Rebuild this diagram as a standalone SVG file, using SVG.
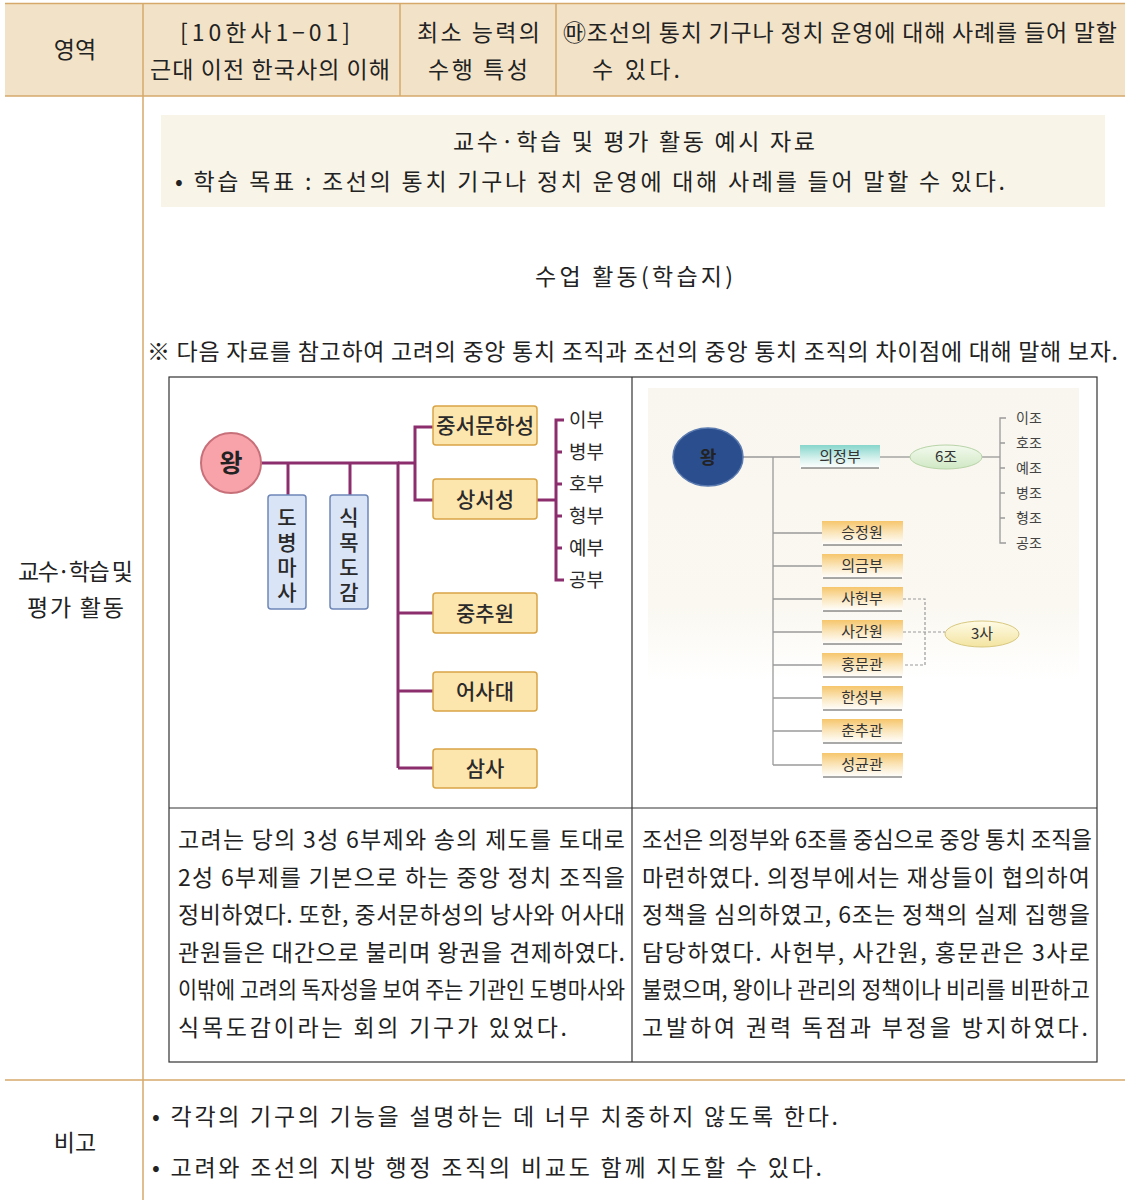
<svg xmlns="http://www.w3.org/2000/svg" width="1125" height="1200" viewBox="0 0 1125 1200">
<style>
  text { font-family: "Noto Sans CJK KR", "Liberation Sans", sans-serif; fill: #222; }
  .t21 { font-size: 23px; }
  .t20 { font-size: 23px; }
  .mid { text-anchor: middle; }
  .grid { stroke: #d6a96a; stroke-width: 1.5; fill: none; }
  .tbl { stroke: #333; stroke-width: 1.2; fill: none; }
  .pl { stroke: #8c2d6e; stroke-width: 3; fill: none; }
  .gl { stroke: #9a9a9a; stroke-width: 1.3; fill: none; }
  .gd { stroke: #9a9a9a; stroke-width: 1.2; fill: none; stroke-dasharray: 3 2; }
  .obox { fill: #fde6ae; stroke: #d9a445; stroke-width: 1.5; }
  .bbox { fill: #d9e4f7; stroke: #6f87b8; stroke-width: 1.5; }
  .gt { font-size: 21px; font-weight: 500; fill: #2a2a2a; text-anchor: middle; }
  .vt { font-size: 21px; font-weight: 500; fill: #2a2a2a; writing-mode: vertical-rl; text-orientation: upright; letter-spacing: 4px; }
  .bt { font-size: 19px; fill: #2a2a2a; }
  .jt { font-size: 15px; fill: #333; text-anchor: middle; }
  .jb { font-size: 14px; fill: #444; }
  .jbox { fill: url(#og); }
  .ul { stroke: #555; stroke-width: 1.2; fill: none; }
</style>
<defs>
  <linearGradient id="og" x1="0" y1="0" x2="0" y2="1">
    <stop offset="0" stop-color="#f6c66c"/>
    <stop offset="0.55" stop-color="#fbe9c4"/>
    <stop offset="1" stop-color="#ffffff"/>
  </linearGradient>
  <linearGradient id="tg" x1="0" y1="0" x2="0" y2="1">
    <stop offset="0" stop-color="#86d6cc"/>
    <stop offset="0.6" stop-color="#d8f2ee"/>
    <stop offset="1" stop-color="#ffffff"/>
  </linearGradient>
  <linearGradient id="gg" x1="0" y1="0" x2="0" y2="1">
    <stop offset="0" stop-color="#f4faee"/>
    <stop offset="1" stop-color="#cfe8c4"/>
  </linearGradient>
  <linearGradient id="yg" x1="0" y1="0" x2="0" y2="1">
    <stop offset="0" stop-color="#fffbe6"/>
    <stop offset="1" stop-color="#f3e4a0"/>
  </linearGradient>
  <linearGradient id="bgg" x1="0" y1="0" x2="0" y2="1">
    <stop offset="0" stop-color="#f8f6ee"/>
    <stop offset="0.75" stop-color="#faf8f1"/>
    <stop offset="1" stop-color="#ffffff"/>
  </linearGradient>
</defs>

<rect x="0" y="0" width="1125" height="1200" fill="#ffffff"/>

<!-- header row -->
<g id="header">
  <rect x="5" y="4" width="1120" height="92" fill="#f2e3c8"/>
  <line class="grid" x1="5" y1="3.5" x2="1125" y2="3.5" stroke-width="2.5"/>
  <line class="grid" x1="5" y1="96" x2="1125" y2="96"/>
  <line class="grid" x1="400" y1="4" x2="400" y2="96"/>
  <line class="grid" x1="556" y1="4" x2="556" y2="96"/>
  <text class="t21 mid" x="75" y="58">영역</text>
  <text class="t21" x="180" y="41" textLength="170" lengthAdjust="spacing">[10한사1−01]</text>
  <text class="t21" x="150" y="78" textLength="240" lengthAdjust="spacing">근대 이전 한국사의 이해</text>
  <text class="t21" x="417" y="41" textLength="123" lengthAdjust="spacing">최소 능력의</text>
  <text class="t21" x="428" y="78" textLength="100" lengthAdjust="spacing">수행 특성</text>
  <text class="t21" x="563" y="41" textLength="554" lengthAdjust="spacing">㉲조선의 통치 기구나 정치 운영에 대해 사례를 들어 말할</text>
  <text class="t21" x="592" y="78" textLength="88" lengthAdjust="spacing">수 있다.</text>
</g>

<!-- table grid -->
<g id="grid">
  <line class="grid" x1="143" y1="4" x2="143" y2="1200"/>
  <line class="grid" x1="5" y1="1080" x2="1125" y2="1080"/>
</g>

<g id="row-label">
  <text class="t21" x="18" y="580" textLength="115" lengthAdjust="spacing">교수·학습 및</text>
  <text class="t21" x="27" y="616" textLength="97" lengthAdjust="spacing">평가 활동</text>
</g>

<g id="goal-box">
  <rect x="161" y="115" width="944" height="92" fill="#f8f4e7"/>
  <text class="t21" x="453" y="150" textLength="362" lengthAdjust="spacing">교수·학습 및 평가 활동 예시 자료</text>
  <text class="t21" x="175" y="190" textLength="830" lengthAdjust="spacing">• 학습 목표 : 조선의 통치 기구나 정치 운영에 대해 사례를 들어 말할 수 있다.</text>
</g>

<g id="activity-title">
  <text class="t21" x="535" y="285" textLength="198" lengthAdjust="spacing">수업 활동(학습지)</text>
  <text class="t21" x="147" y="360" textLength="971" lengthAdjust="spacing">※ 다음 자료를 참고하여 고려의 중앙 통치 조직과 조선의 중앙 통치 조직의 차이점에 대해 말해 보자.</text>
</g>

<!-- inner table -->
<g id="inner-table">
  <rect class="tbl" x="169" y="377" width="928" height="685"/>
  <line class="tbl" x1="632" y1="377" x2="632" y2="1062"/>
  <line class="tbl" x1="169" y1="808" x2="1097" y2="808"/>
</g>

<!-- Joseon background -->
<rect x="648" y="388" width="431" height="292" fill="url(#bgg)"/>

<!-- connectors -->
<g id="connectors">
  <!-- Goryeo -->
  <path class="pl" d="M261 463 H398 V768"/>
  <path class="pl" d="M288 463 V495"/>
  <path class="pl" d="M350 463 V495"/>
  <path class="pl" d="M398 463 H415"/>
  <path class="pl" d="M433 427 H415 V500 H433"/>
  <path class="pl" d="M398 613 H433"/>
  <path class="pl" d="M398 691 H433"/>
  <path class="pl" d="M398 768 H433"/>
  <path class="pl" d="M537 500 H556"/>
  <path class="pl" d="M564 420 H556 V580 H564"/>
  <path class="pl" d="M556 452 H562 M556 484 H562 M556 516 H562 M556 548 H562"/>
  <!-- Joseon -->
  <path class="gl" d="M743 457 H800"/>
  <path class="gl" d="M773 457 V765"/>
  <path class="gl" d="M773 533 H822 M773 566 H822 M773 599 H822 M773 632 H822 M773 665 H822 M773 698 H822 M773 731 H822 M773 765 H822"/>
  <path class="gl" d="M880 457 H910"/>
  <path class="gl" d="M982 457 H1000"/>
  <path class="gl" d="M1006 418 H1000 V543 H1006"/>
  <path class="gl" d="M1000 443 H1005 M1000 468 H1005 M1000 493 H1005 M1000 518 H1005"/>
  <path class="gd" d="M903 599 H925 V665 H903"/>
  <path class="gd" d="M903 632 H945"/>
</g>

<!-- Goryeo nodes -->
<g id="g-king">
  <circle cx="231" cy="463" r="30" fill="#f8a3aa" stroke="#c8707a" stroke-width="2"/>
  <text x="231" y="472" text-anchor="middle" font-size="25" font-weight="700" fill="#3a1a1a">왕</text>
</g>
<g id="g-dobyeongmasa">
  <rect class="bbox" x="268" y="495" width="38" height="114" rx="3"/>
  <text class="vt" x="287" y="507">도병마사</text>
</g>
<g id="g-sikmokdogam">
  <rect class="bbox" x="330" y="495" width="38" height="114" rx="3"/>
  <text class="vt" x="349" y="507">식목도감</text>
</g>
<g id="g-jungseo">
  <rect class="obox" x="433" y="406" width="104" height="39" rx="3"/>
  <text class="gt" x="485" y="433" textLength="98" lengthAdjust="spacingAndGlyphs">중서문하성</text>
</g>
<g id="g-sangseo">
  <rect class="obox" x="433" y="479" width="104" height="40" rx="3"/>
  <text class="gt" x="485" y="507">상서성</text>
</g>
<g id="g-jungchu">
  <rect class="obox" x="433" y="593" width="104" height="40" rx="3"/>
  <text class="gt" x="485" y="621">중추원</text>
</g>
<g id="g-eosa">
  <rect class="obox" x="433" y="672" width="104" height="39" rx="3"/>
  <text class="gt" x="485" y="699">어사대</text>
</g>
<g id="g-samsa">
  <rect class="obox" x="433" y="749" width="104" height="39" rx="3"/>
  <text class="gt" x="485" y="776">삼사</text>
</g>
<g id="g-6bu">
  <text class="bt" x="569" y="427">이부</text>
  <text class="bt" x="569" y="459">병부</text>
  <text class="bt" x="569" y="491">호부</text>
  <text class="bt" x="569" y="523">형부</text>
  <text class="bt" x="569" y="555">예부</text>
  <text class="bt" x="569" y="587">공부</text>
</g>

<!-- Joseon nodes -->
<g id="j-king">
  <ellipse cx="708" cy="457" rx="35" ry="29" fill="#2b4f8e" stroke="#5a7ab0" stroke-width="1.5"/>
  <text x="708" y="464" text-anchor="middle" font-size="18" font-weight="700" fill="#e8eef8">왕</text>
</g>
<g id="j-uijeongbu">
  <rect x="800" y="445" width="80" height="23" fill="url(#tg)"/>
  <path class="ul" d="M801 468 H879"/>
  <text class="jt" x="840" y="462">의정부</text>
</g>
<g id="j-6jo">
  <ellipse cx="946" cy="457" rx="36" ry="12" fill="url(#gg)" stroke="#b8d4a8" stroke-width="1"/>
  <text class="jt" x="946" y="462">6조</text>
</g>
<g id="j-6jo-list">
  <text class="jb" x="1016" y="423">이조</text>
  <text class="jb" x="1016" y="448">호조</text>
  <text class="jb" x="1016" y="473">예조</text>
  <text class="jb" x="1016" y="498">병조</text>
  <text class="jb" x="1016" y="523">형조</text>
  <text class="jb" x="1016" y="548">공조</text>
</g>
<g id="j-seungjeong"><rect class="jbox" x="822" y="521" width="81" height="24"/><path class="ul" d="M823 545 H902"/><text class="jt" x="862" y="538">승정원</text></g>
<g id="j-uigeum"><rect class="jbox" x="822" y="554" width="81" height="24"/><path class="ul" d="M823 578 H902"/><text class="jt" x="862" y="571">의금부</text></g>
<g id="j-saheon"><rect class="jbox" x="822" y="587" width="81" height="24"/><path class="ul" d="M823 611 H902"/><text class="jt" x="862" y="604">사헌부</text></g>
<g id="j-saganwon"><rect class="jbox" x="822" y="620" width="81" height="24"/><path class="ul" d="M823 644 H902"/><text class="jt" x="862" y="637">사간원</text></g>
<g id="j-hongmun"><rect class="jbox" x="822" y="653" width="81" height="24"/><path class="ul" d="M823 677 H902"/><text class="jt" x="862" y="670">홍문관</text></g>
<g id="j-hanseong"><rect class="jbox" x="822" y="686" width="81" height="24"/><path class="ul" d="M823 710 H902"/><text class="jt" x="862" y="703">한성부</text></g>
<g id="j-chunchu"><rect class="jbox" x="822" y="719" width="81" height="24"/><path class="ul" d="M823 743 H902"/><text class="jt" x="862" y="736">춘추관</text></g>
<g id="j-seonggyun"><rect class="jbox" x="822" y="753" width="81" height="24"/><path class="ul" d="M823 777 H902"/><text class="jt" x="862" y="770">성균관</text></g>
<g id="j-3sa">
  <ellipse cx="982" cy="634" rx="37" ry="13" fill="url(#yg)" stroke="#d8c880" stroke-width="1"/>
  <text class="jt" x="982" y="639">3사</text>
</g>

<!-- descriptions -->
<g id="desc-goryeo">
  <text class="t20" x="178" y="848" textLength="447" lengthAdjust="spacing">고려는 당의 3성 6부제와 송의 제도를 토대로</text>
  <text class="t20" x="178" y="886" textLength="447" lengthAdjust="spacing">2성 6부제를 기본으로 하는 중앙 정치 조직을</text>
  <text class="t20" x="178" y="923" textLength="447" lengthAdjust="spacing">정비하였다. 또한, 중서문하성의 낭사와 어사대</text>
  <text class="t20" x="178" y="961" textLength="447" lengthAdjust="spacing">관원들은 대간으로 불리며 왕권을 견제하였다.</text>
  <text class="t20" x="178" y="998" textLength="447" lengthAdjust="spacingAndGlyphs">이밖에 고려의 독자성을 보여 주는 기관인 도병마사와</text>
  <text class="t20" x="178" y="1036" textLength="389" lengthAdjust="spacing">식목도감이라는 회의 기구가 있었다.</text>
</g>
<g id="desc-joseon">
  <text class="t20" x="642" y="848" textLength="450" lengthAdjust="spacingAndGlyphs">조선은 의정부와 6조를 중심으로 중앙 통치 조직을</text>
  <text class="t20" x="642" y="886" textLength="448" lengthAdjust="spacing">마련하였다. 의정부에서는 재상들이 협의하여</text>
  <text class="t20" x="642" y="923" textLength="448" lengthAdjust="spacing">정책을 심의하였고, 6조는 정책의 실제 집행을</text>
  <text class="t20" x="642" y="961" textLength="448" lengthAdjust="spacing">담당하였다. 사헌부, 사간원, 홍문관은 3사로</text>
  <text class="t20" x="642" y="998" textLength="448" lengthAdjust="spacingAndGlyphs">불렸으며, 왕이나 관리의 정책이나 비리를 비판하고</text>
  <text class="t20" x="642" y="1036" textLength="446" lengthAdjust="spacing">고발하여 권력 독점과 부정을 방지하였다.</text>
</g>

<!-- remarks -->
<g id="remarks">
  <text class="t21 mid" x="75" y="1151">비고</text>
  <text class="t20" x="152" y="1125" textLength="686" lengthAdjust="spacing">• 각각의 기구의 기능을 설명하는 데 너무 치중하지 않도록 한다.</text>
  <text class="t20" x="152" y="1176" textLength="670" lengthAdjust="spacing">• 고려와 조선의 지방 행정 조직의 비교도 함께 지도할 수 있다.</text>
</g>
</svg>
